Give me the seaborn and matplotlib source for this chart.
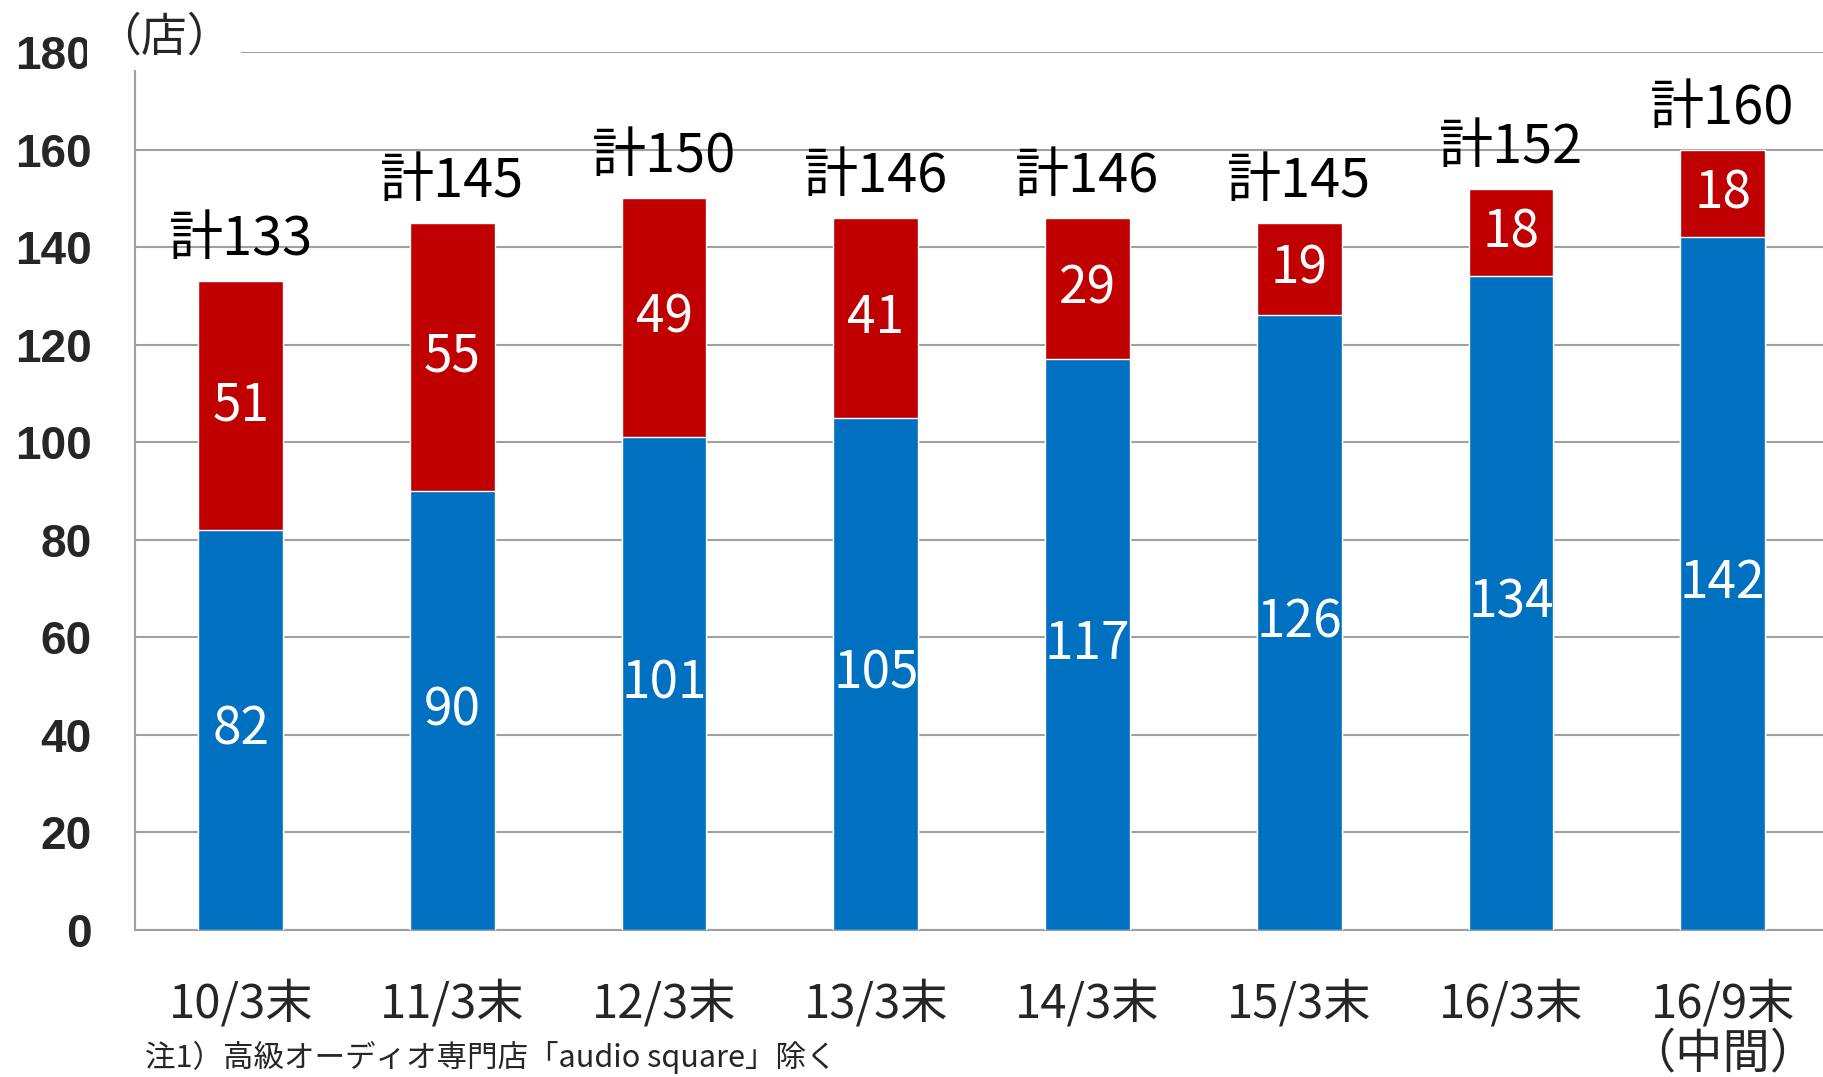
import matplotlib
matplotlib.use('Agg')
import matplotlib.pyplot as plt
import seaborn as sns
import numpy as np

# Store counts by period (blue = main stores, red = other stores)
periods = ['10/3末', '11/3末', '12/3末', '13/3末', '14/3末', '15/3末', '16/3末', '16/9末\n（中間）']
blue_counts = [82, 90, 101, 105, 117, 126, 134, 142]
red_counts = [51, 55, 49, 41, 29, 19, 18, 18]
y_ticks = [0, 20, 40, 60, 80, 100, 120, 140, 160, 180]

BLUE = '#0070C0'
RED = '#C00000'
GRID = '#a0a0a0'
JP = ['Noto Sans CJK JP', 'DejaVu Sans']

sns.set_theme(style='white')
plt.rcParams['font.family'] = JP

totals = [b + r for b, r in zip(blue_counts, red_counts)]

fig = plt.figure(figsize=(18.23, 10.77), dpi=100)
ax = fig.add_axes([0.074, 0.1365, 0.929, 0.8152])

# red drawn as the full total, blue on top of it -> stacked look
sns.barplot(x=periods, y=totals, color=RED, width=0.4, saturation=1, ax=ax, zorder=3)
sns.barplot(x=periods, y=blue_counts, color=BLUE, width=0.4, saturation=1, ax=ax, zorder=3)

ax.set_ylim(0, 180)
ax.set_xlim(-0.5, len(periods) - 0.5)
ax.set_yticks(y_ticks)
ax.yaxis.grid(True, color=GRID, linewidth=1.5, zorder=0)
ax.set_axisbelow(True)

for side in ['top', 'right']:
    ax.spines[side].set_visible(False)
for side in ['left', 'bottom']:
    ax.spines[side].set_color(GRID)
    ax.spines[side].set_linewidth(1.5)

# y tick labels: bold
ax.tick_params(axis='y', length=11, width=1.5, color=GRID, pad=20)
for lab in ax.get_yticklabels():
    lab.set_fontfamily(['Liberation Sans', 'DejaVu Sans'])
    lab.set_fontweight('bold')
    lab.set_fontsize(33)

# x: tick marks between categories, labels at centres
ax.set_xticks(np.arange(len(periods) + 1) - 0.5)
ax.set_xticklabels([])
ax.tick_params(axis='x', which='major', length=10, width=1.5, color=GRID, direction='out')
ax.set_xticks(np.arange(len(periods)), minor=True)
ax.set_xticklabels(periods, minor=True, fontsize=34, linespacing=1.05)
ax.tick_params(axis='x', which='minor', length=0, pad=36)
ax.set_xlabel('')
ax.set_ylabel('')

for i in range(len(periods)):
    ax.text(i, blue_counts[i] / 2, str(blue_counts[i]), ha='center', va='center',
            color='white', fontsize=37, zorder=5)
    ax.text(i, blue_counts[i] + red_counts[i] / 2, str(red_counts[i]), ha='center',
            va='center', color='white', fontsize=37, zorder=5)
    ax.annotate('計' + str(totals[i]), (i, totals[i]), xytext=(0, 10),
                textcoords='offset points', ha='center', va='bottom',
                fontsize=39, color='black', zorder=5)

fig.text(0.09, 0.9656, '（店）', ha='center', va='center', fontsize=33,
         bbox=dict(facecolor='white', edgecolor='none', pad=6), zorder=10)
fig.text(0.0795, 0.018, '注1）高級オーディオ専門店「audio square」除く', ha='left',
         va='center', fontsize=22)

fig.savefig('out.png', dpi=100)
